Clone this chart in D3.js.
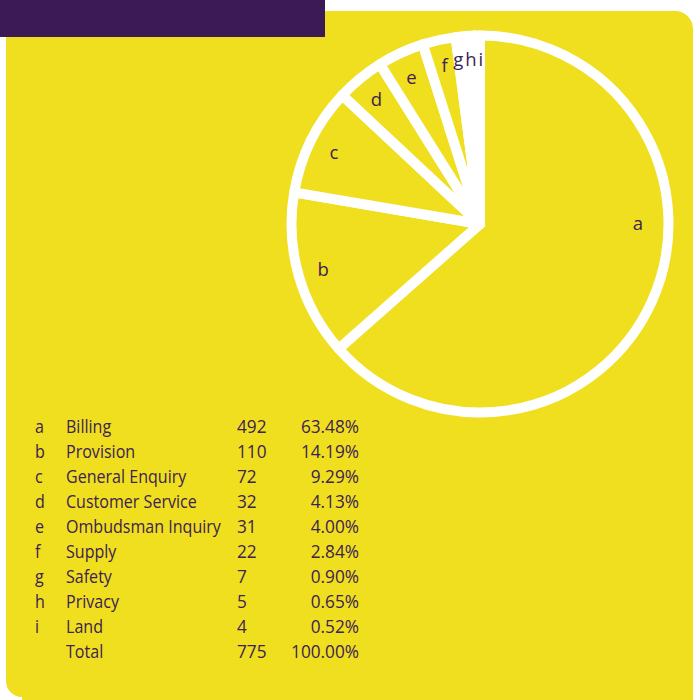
<!DOCTYPE html>
<html>
<head>
<meta charset="utf-8">
<script src="https://cdn.jsdelivr.net/npm/d3@7"></script>
<style>
  html, body { margin: 0; padding: 0; background: #ffffff; }
  svg { display: block; }
</style>
</head>
<body>
<svg id="chart" width="693" height="700"></svg>
<script>
// Complaint categories and their counts
const letters = ["a", "b", "c", "d", "e", "f", "g", "h", "i"];
const categories = ["Billing", "Provision", "General Enquiry", "Customer Service",
  "Ombudsman Inquiry", "Supply", "Safety", "Privacy", "Land"];
const counts = [492, 110, 72, 32, 31, 22, 7, 5, 4];
const percents = ["63.48%", "14.19%", "9.29%", "4.13%", "4.00%", "2.84%", "0.90%", "0.65%", "0.52%"];
const totalLabel = "Total";
const totalCount = 775;
const totalPercent = "100.00%";

const YELLOW = "#efdf1e";
const PURPLE = "#3b1a56";
const INK = "#3d2253";
const FONT = "'Open Sans', 'Noto Sans', sans-serif";

const svg = d3.select("#chart");

// Yellow panel with rounded corners
const panel = d3.path();
const px0 = 6, py0 = 11, px1 = 693, py1 = 697, rTop = 18, rBot = 16;
panel.moveTo(px0, py0);
panel.lineTo(px1 - rTop, py0);
panel.arcTo(px1, py0, px1, py0 + rTop, rTop);
panel.lineTo(px1, 700);
panel.lineTo(px0 + rBot, 700);
panel.lineTo(px0 + rBot, py1);
panel.arcTo(px0, py1, px0, py1 - rBot, rBot);
panel.closePath();
svg.append("path").attr("d", panel.toString()).attr("fill", YELLOW);
svg.append("rect").attr("x", px0 + rBot).attr("y", py1).attr("width", 700).attr("height", 10).attr("fill", YELLOW);

// Header bar
svg.append("rect").attr("x", 0).attr("y", 0).attr("width", 325).attr("height", 37).attr("fill", PURPLE);

// Pie
const cx = 480, cy = 224, R = 188.5;
const data = letters.map((k, i) => ({ key: k, name: categories[i], value: counts[i] }));
const pie = d3.pie().sort(null).value(d => d.value).startAngle(0).endAngle(2 * Math.PI);
const arcs = pie(data);
const arc = d3.arc().innerRadius(0).outerRadius(R);

const g = svg.append("g").attr("transform", `translate(${cx},${cy})`);
g.selectAll("path.slice")
  .data(arcs)
  .join("path")
  .attr("class", "slice")
  .attr("d", arc)
  .attr("fill", d => (d.value / totalCount < 0.01 ? "#ffffff" : YELLOW))
  .attr("stroke", "#ffffff")
  .attr("stroke-width", 10)
  .attr("stroke-linejoin", "round");

// Slice letters
const labelArc = d3.arc().innerRadius(163).outerRadius(163);
const labels = [];
arcs.forEach((d, i) => {
  if (d.value / totalCount < 0.01) return;
  let pos;
  if (i === 0) {
    // largest slice: letter sits in the open space on the right
    pos = [158, -2];
  } else {
    pos = labelArc.centroid(d);
  }
  labels.push({ text: d.data.key, pos });
});
// the three smallest slices share one label
const small = arcs.filter(d => d.value / totalCount < 0.01);
const smallSpan = { startAngle: small[0].startAngle, endAngle: small[small.length - 1].endAngle };
labels.push({ text: small.map(d => d.data.key).join(""), pos: d3.arc().innerRadius(166).outerRadius(166).centroid(smallSpan), spacing: 2 });

g.selectAll("text.lbl")
  .data(labels)
  .join("text")
  .attr("class", "lbl")
  .attr("x", d => d.pos[0])
  .attr("y", d => d.pos[1])
  .attr("text-anchor", "middle")
  .attr("dominant-baseline", "central")
  .attr("font-family", FONT)
  .attr("font-size", 18.5)
  .attr("letter-spacing", d => d.spacing || 0)
  .attr("fill", INK)
  .text(d => d.text);

// Table
const rowY0 = 433, rowStep = 25, fs = 18.5;
const colLetter = 35, colName = 66, colCount = 237, colPct = 359;
const table = svg.append("g").attr("font-family", FONT).attr("font-size", fs).attr("fill", INK);

// condensed look: squeeze glyphs horizontally to the column widths
function widthOf(txt) {
  const t = table.append("text").text(txt);
  const w = t.node().getComputedTextLength();
  t.remove();
  return w;
}
const sxText = 155 / widthOf("Ombudsman Inquiry");
const sxNum = 68 / widthOf(totalPercent);

function cell(x, y, txt, sx, anchor) {
  table.append("text")
    .attr("transform", `translate(${x},${y}) scale(${sx},1)`)
    .attr("text-anchor", anchor || "start")
    .text(txt);
}

data.forEach((d, i) => {
  const y = rowY0 + i * rowStep;
  cell(colLetter, y, letters[i], sxText);
  cell(colName, y, categories[i], sxText);
  cell(colCount, y, counts[i], sxNum);
  cell(colPct, y, percents[i], sxNum, "end");
});
const yT = rowY0 + data.length * rowStep;
cell(colName, yT, totalLabel, sxText);
cell(colCount, yT, totalCount, sxNum);
cell(colPct, yT, totalPercent, sxNum, "end");
</script>
</body>
</html>
